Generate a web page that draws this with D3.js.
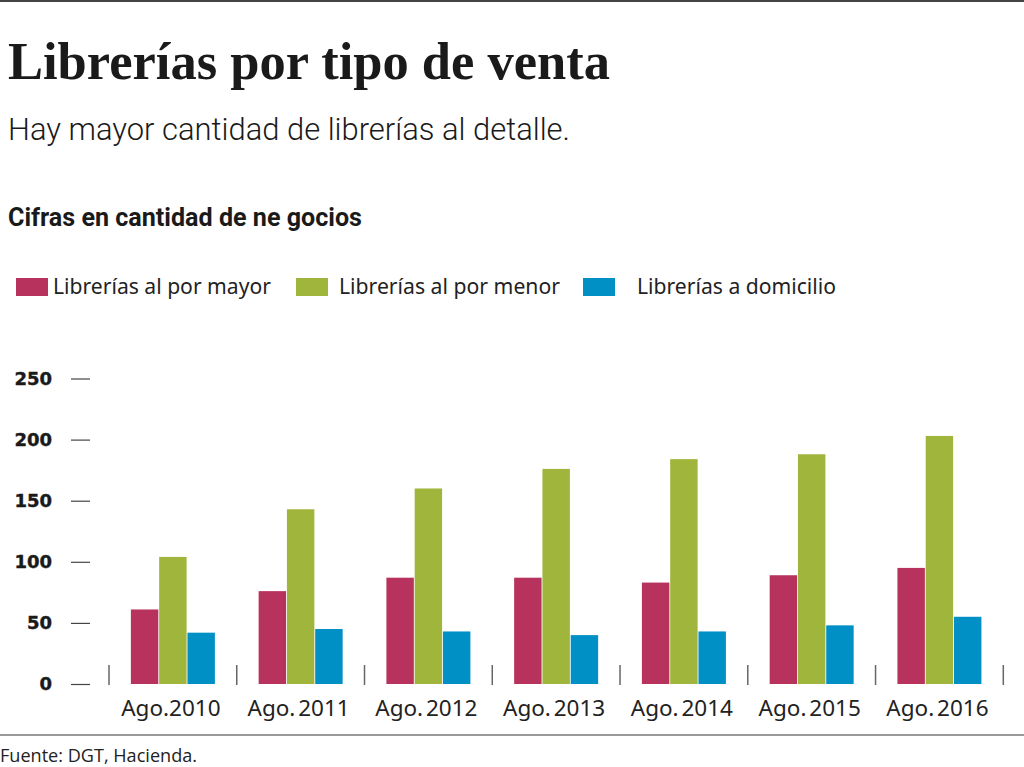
<!DOCTYPE html>
<meta charset="utf-8">
<script src="https://d3js.org/d3.v7.min.js"></script>
<style>
  body { margin: 0; background: #fff; }
  svg { display: block; }
</style>
<div id="chart"></div>
<script>

// Datos
var periodos = ["Ago.2010", "Ago. 2011", "Ago. 2012", "Ago. 2013", "Ago. 2014", "Ago. 2015", "Ago. 2016"];
var series = ["Librerías al por mayor", "Librerías al por menor", "Librerías a domicilio"];
var porMayor = [61, 76, 87, 87, 83, 89, 95];
var porMenor = [104, 143, 160, 176, 184, 188, 203];
var aDomicilio = [42, 45, 43, 40, 43, 48, 55];
var yTicks = [0, 50, 100, 150, 200, 250];
var colores = ["#b7335e", "#9fb53b", "#0190c6"];

var valores = [porMayor, porMenor, aDomicilio];
var datos = periodos.map(function(p, i) {
  return { periodo: p, vals: valores.map(function(v) { return v[i]; }) };
});

var W = 1024, H = 767;
var svg = d3.select("#chart").append("svg")
  .attr("width", W).attr("height", H);

// Lineas de borde
svg.append("line").attr("x1", 0).attr("x2", W).attr("y1", 1).attr("y2", 1)
  .attr("stroke", "#444").attr("stroke-width", 2);
svg.append("line").attr("x1", 0).attr("x2", W).attr("y1", 735).attr("y2", 735)
  .attr("stroke", "#777").attr("stroke-width", 1.5);

// Titulos
svg.append("text").attr("x", 8).attr("y", 79)
  .attr("textLength", 602).attr("lengthAdjust", "spacingAndGlyphs")
  .style("font-family", "'Liberation Serif', serif").style("font-weight", "bold")
  .style("font-size", "52px").style("fill", "#1a1a1a")
  .text("Librerías por tipo de venta");

svg.append("text").attr("x", 8).attr("y", 140)
  .attr("textLength", 562).attr("lengthAdjust", "spacingAndGlyphs")
  .style("font-family", "Roboto, sans-serif").style("font-weight", 300)
  .style("font-size", "32px").style("fill", "#1a1a1a")
  .text("Hay mayor cantidad de librerías al detalle.");

svg.append("text").attr("x", 8).attr("y", 226)
  .attr("textLength", 354).attr("lengthAdjust", "spacingAndGlyphs")
  .style("font-family", "Roboto, sans-serif").style("font-weight", "bold")
  .style("font-size", "25px").style("fill", "#1a1a1a")
  .text("Cifras en cantidad de ne gocios");

// Leyenda
var leyX = [16, 296, 583];
var leyTxtX = [53, 339, 637];
var leyW = [218, 221, 199];
var ley = svg.selectAll(".ley").data(series).enter().append("g").attr("class", "ley");
ley.append("rect")
  .attr("x", function(d, i) { return leyX[i]; })
  .attr("y", 278).attr("width", 32).attr("height", 18)
  .attr("fill", function(d, i) { return colores[i]; });
ley.append("text")
  .attr("x", function(d, i) { return leyTxtX[i]; })
  .attr("y", 294)
  .attr("textLength", function(d, i) { return leyW[i]; })
  .attr("lengthAdjust", "spacingAndGlyphs")
  .style("font-family", "'Noto Sans', sans-serif")
  .style("font-size", "22px").style("fill", "#222")
  .text(function(d) { return d; });

// Escalas
var x = d3.scaleBand().domain(periodos).range([109, 1003.3]).padding(0);
var x1 = d3.scaleBand().domain([0, 1, 2]).range([0, 84]).paddingInner(0.03);
var y = d3.scaleLinear().domain([0, 250]).range([684, 378.5]);

// Eje Y
var yAxis = svg.append("g").attr("transform", "translate(90,0)")
  .call(d3.axisLeft(y).tickValues(yTicks).tickSize(19).tickPadding(19));
yAxis.select(".domain").remove();
yAxis.selectAll(".tick line").attr("stroke", "#444").attr("stroke-width", 1.2);
yAxis.selectAll(".tick text")
  .style("font-family", "'DejaVu Sans', sans-serif").style("font-weight", "bold")
  .style("font-size", "18px").style("fill", "#1a1a1a")
  .style("stroke", "#1a1a1a").style("stroke-width", 0.4);

// Separadores
var seps = periodos.map(function(p) { return x(p); }).concat([x.range()[1]]);
svg.selectAll(".sep").data(seps).enter().append("line").attr("class", "sep")
  .attr("x1", function(d) { return d; }).attr("x2", function(d) { return d; })
  .attr("y1", 665).attr("y2", 685)
  .attr("stroke", "#666").attr("stroke-width", 1.5);

// Barras
var off = (x.bandwidth() - 84) / 2;
var grupos = svg.selectAll(".grupo").data(datos).enter().append("g")
  .attr("class", "grupo")
  .attr("transform", function(d) { return "translate(" + (x(d.periodo) + off) + ",0)"; });
grupos.selectAll("rect").data(function(d) { return d.vals; }).enter().append("rect")
  .attr("x", function(d, i) { return x1(i); })
  .attr("width", x1.bandwidth())
  .attr("y", function(d) { return y(d); })
  .attr("height", function(d) { return y(0) - y(d); })
  .attr("fill", function(d, i) { return colores[i]; });

// Etiquetas X
svg.selectAll(".xlab").data(periodos).enter().append("text").attr("class", "xlab")
  .attr("x", function(d) { return x(d) + x.bandwidth() / 2 - 2; })
  .attr("y", 716)
  .attr("text-anchor", "middle")
  .style("font-family", "'Noto Sans', sans-serif")
  .style("font-size", "22.5px").style("fill", "#222")
  .style("word-spacing", "-3px")
  .text(function(d) { return d; });

// Fuente
svg.append("text").attr("x", 0).attr("y", 762)
  .attr("textLength", 197).attr("lengthAdjust", "spacingAndGlyphs")
  .style("font-family", "'Open Sans', sans-serif")
  .style("font-size", "18px").style("fill", "#222")
  .text("Fuente: DGT, Hacienda.");

</script>
